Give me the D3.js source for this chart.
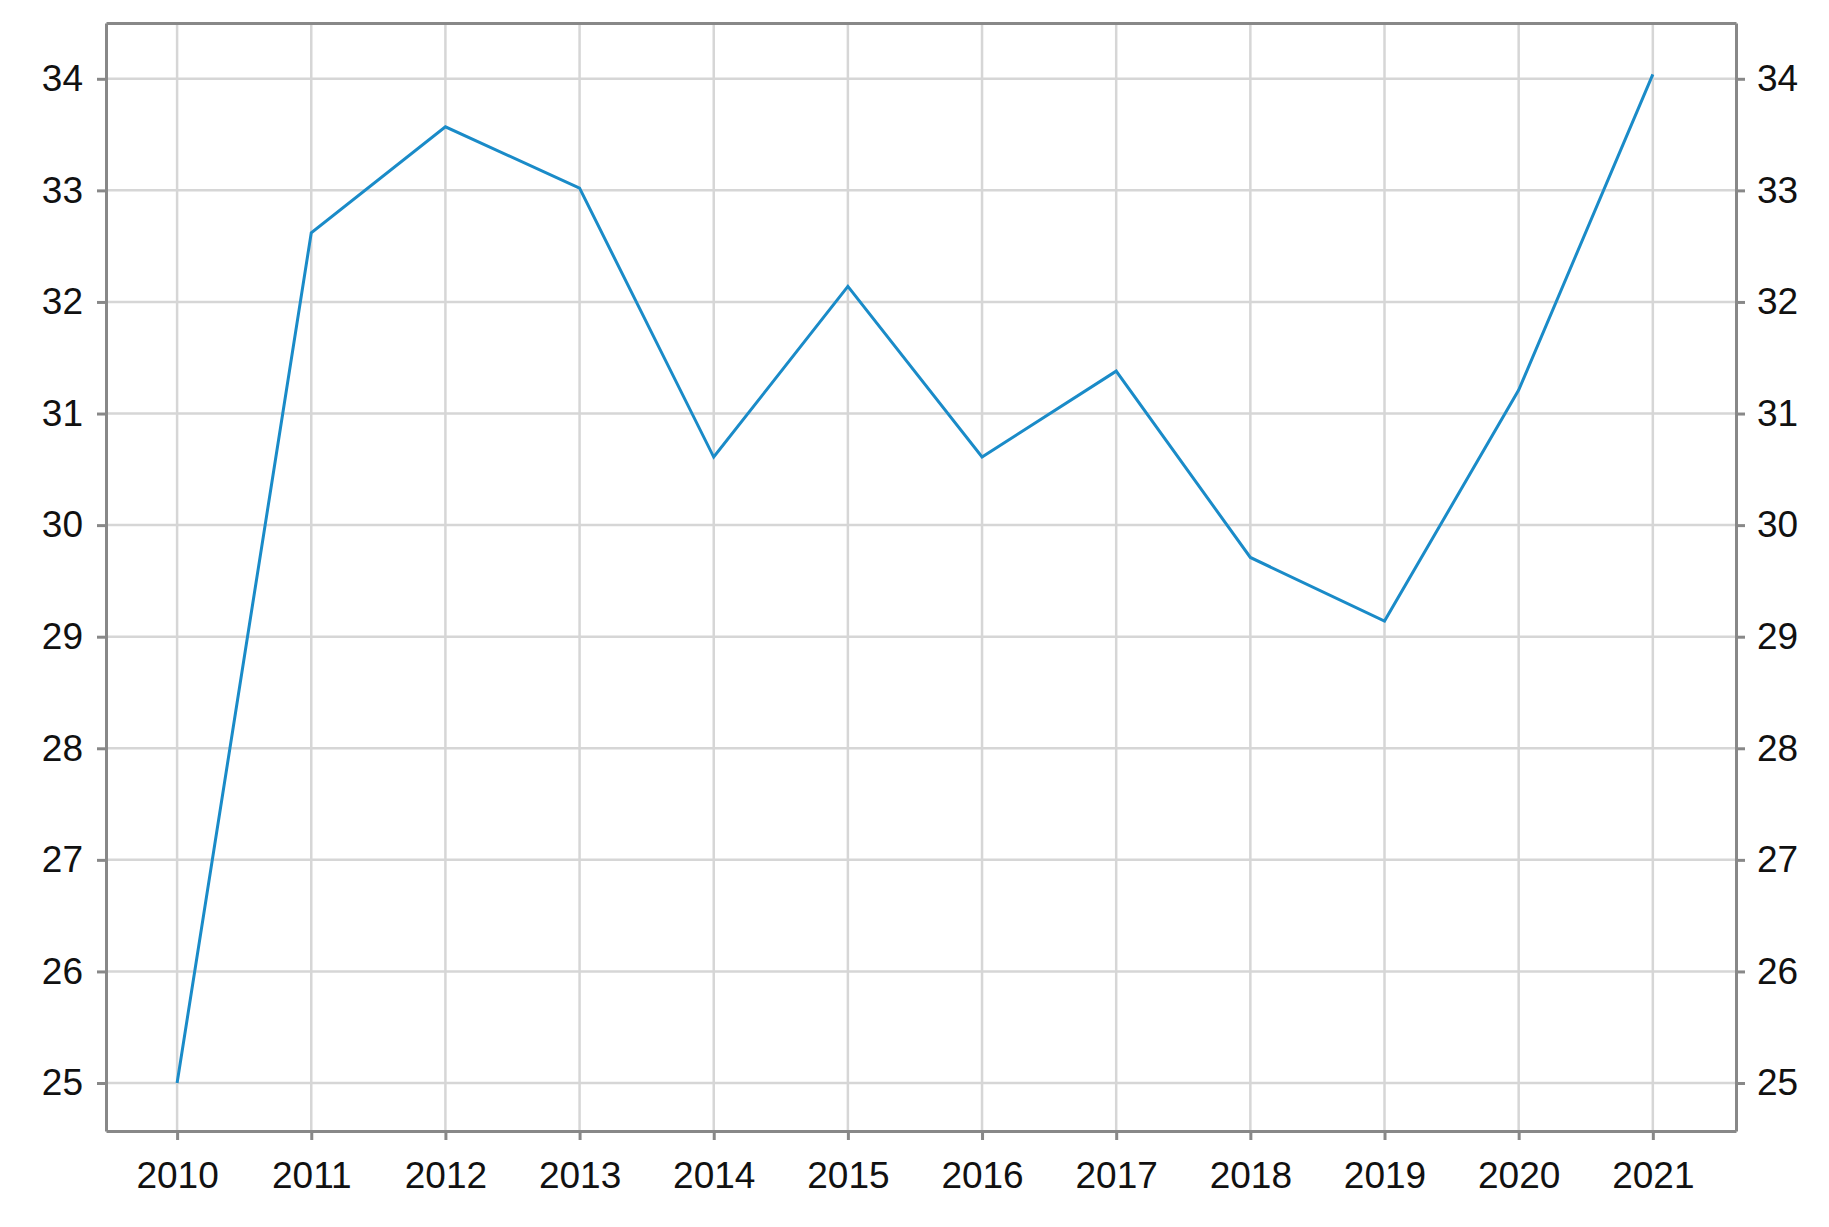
<!DOCTYPE html>
<html>
<head>
<meta charset="utf-8">
<script src="https://cdn.jsdelivr.net/npm/d3@7"></script>
<style>
body{margin:0;background:#fff;}
text{font-family:"Liberation Sans",Arial,sans-serif;}
</style>
</head>
<body>
<svg id="chart" width="1829" height="1227"></svg>
<script>
// data
var years=[2010,2011,2012,2013,2014,2015,2016,2017,2018,2019,2020,2021];
var values=[25.0,32.62,33.57,33.02,30.61,32.14,30.61,31.38,29.71,29.14,31.21,34.04];
var yTicks=[25,26,27,28,29,30,31,32,33,34];

var svg=d3.select("#chart");
var L=106,R=1736,T=23,B=1131;

var x=d3.scaleLinear().domain([2009.47,2021.62]).range([L,R]);
var y=d3.scaleLinear().domain([24.57,34.5]).range([B,T]);

// grid
svg.append("g").selectAll("line").data(years).enter().append("line")
	.attr("x1",function(d){return x(d);}).attr("x2",function(d){return x(d);})
	.attr("y1",T).attr("y2",B).attr("stroke","#d6d6d6").attr("stroke-width",2.5);
svg.append("g").selectAll("line").data(yTicks).enter().append("line")
	.attr("x1",L).attr("x2",R)
	.attr("y1",function(d){return y(d);}).attr("y2",function(d){return y(d);})
	.attr("stroke","#d6d6d6").attr("stroke-width",2.5);

// axes
function styleAxis(g){
	g.select(".domain").attr("stroke","#888").attr("stroke-width",3);
	g.selectAll(".tick line").attr("stroke","#888").attr("stroke-width",3);
	g.selectAll("text").attr("font-size",37).attr("fill","#111");
}
svg.append("g").attr("transform","translate(0,"+B+")")
	.call(d3.axisBottom(x).tickValues(years).tickFormat(d3.format("d")).tickSize(9).tickSizeOuter(0).tickPadding(22))
	.call(styleAxis);
svg.append("g").attr("transform","translate(0,"+T+")")
	.call(d3.axisTop(x).tickValues([]).tickSizeOuter(0))
	.call(styleAxis);
svg.append("g").attr("transform","translate("+L+",0)")
	.call(d3.axisLeft(y).tickValues(yTicks).tickSize(9).tickSizeOuter(0).tickPadding(14))
	.call(styleAxis);
svg.append("g").attr("transform","translate("+R+",0)")
	.call(d3.axisRight(y).tickValues(yTicks).tickSize(9).tickSizeOuter(0).tickPadding(12))
	.call(styleAxis);

// line
var line=d3.line().x(function(d,i){return x(years[i]);}).y(function(d){return y(d);});
svg.append("path").datum(values).attr("d",line)
	.attr("fill","none").attr("stroke","#1a8bc8").attr("stroke-width",3);
</script>
</body>
</html>
